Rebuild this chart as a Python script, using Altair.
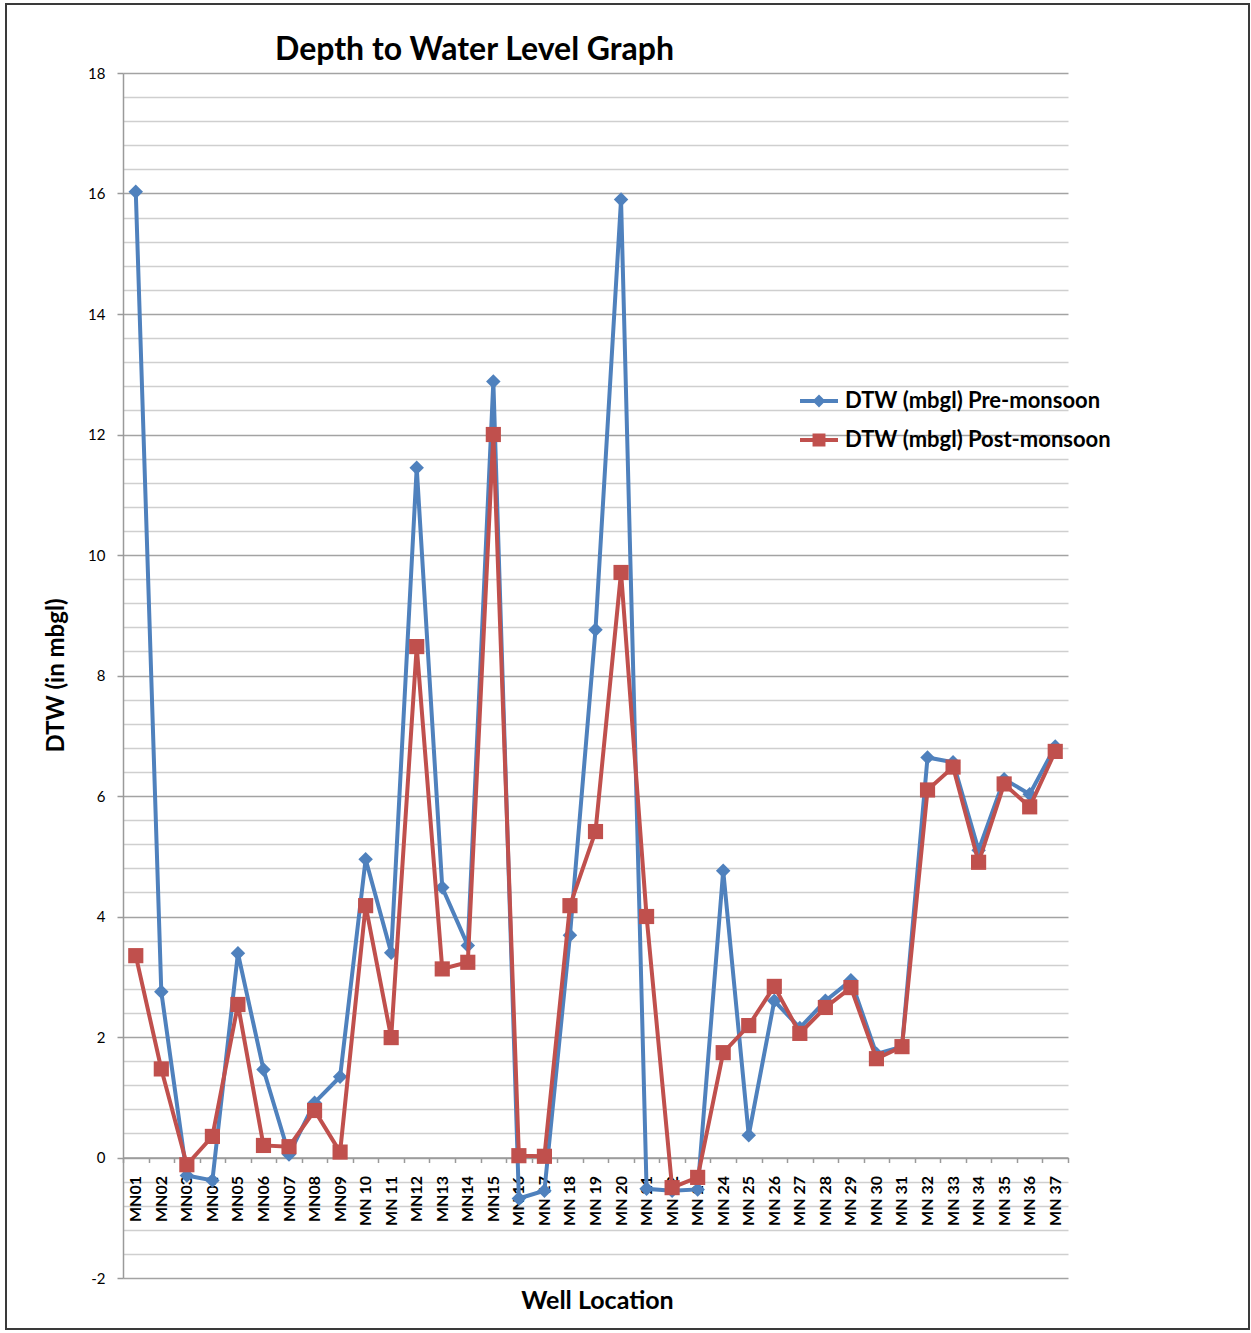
import altair as alt
import pandas as pd

# Well locations along the x axis
wells = [
    "MN01", "MN02", "MN03", "MN04", "MN05", "MN06", "MN07", "MN08", "MN09",
    "MN 10", "MN 11", "MN12", "MN13", "MN14", "MN15", "MN 16", "MN 17",
    "MN 18", "MN 19", "MN 20", "MN 21", "MN 22", "MN 23", "MN 24", "MN 25",
    "MN 26", "MN 27", "MN 28", "MN 29", "MN 30", "MN 31", "MN 32", "MN 33",
    "MN 34", "MN 35", "MN 36", "MN 37",
]

# Depth to water level (m bgl)
pre_monsoon = [
    16.03, 2.75, -0.30, -0.38, 3.39, 1.46, 0.05, 0.91, 1.34, 4.95, 3.40,
    11.45, 4.48, 3.52, 12.88, -0.68, -0.55, 3.69, 8.76, 15.90, -0.52, -0.55,
    -0.53, 4.76, 0.37, 2.60, 2.15, 2.60, 2.94, 1.72, 1.84, 6.64, 6.56, 5.10,
    6.28, 6.03, 6.82,
]
post_monsoon = [
    3.35, 1.47, -0.12, 0.35, 2.54, 0.20, 0.18, 0.78, 0.09, 4.18, 1.99,
    8.48, 3.13, 3.24, 12.00, 0.03, 0.02, 4.18, 5.41, 9.71, 4.00, -0.50,
    -0.33, 1.74, 2.19, 2.84, 2.06, 2.49, 2.82, 1.64, 1.84, 6.10, 6.48, 4.90,
    6.20, 5.82, 6.74,
]

series_names = ["DTW (mbgl) Pre-monsoon", "DTW (mbgl) Post-monsoon"]
series_colors = ["#4F81BD", "#C0504D"]

df = pd.DataFrame({
    "well": wells * 2,
    "value": pre_monsoon + post_monsoon,
    "series": [series_names[0]] * len(wells) + [series_names[1]] * len(wells),
})

FONT = "Lato"
MAJOR = "abs(datum.value % 2) < 0.001"

# y ticks every 0.4 (minor gridlines), labelled every 2
y_ticks = [round(-2 + 0.4 * i, 1) for i in range(51)]

x_enc = alt.X(
    "well:N",
    sort=wells,
    bandPosition=0.5,
    scale=alt.Scale(type="band", domain=wells, paddingInner=0, paddingOuter=0),
    axis=alt.Axis(
        title="Well Location",
        titleFont=FONT, titleFontSize=25, titleFontWeight="bold", titleColor="#000000",
        titleX=474, titleY=143, titleBaseline="middle", titleAlign="center",
        offset=-120.5,
        domainColor="#9a9a9a", domainWidth=1.5,
        tickColor="#9a9a9a", tickSize=5, tickWidth=1.5, tickBand="extent",
        labelAngle=270, labelFont=FONT, labelFontSize=16, labelFontWeight="bold",
        labelColor="#000000", labelPadding=13, labelOverlap=False, labelBound=False,
        grid=False,
    ),
)

y_enc = alt.Y(
    "value:Q",
    scale=alt.Scale(domain=[-2, 18], nice=False, zero=False),
    axis=alt.Axis(
        values=y_ticks,
        labelExpr=f"{MAJOR} ? toString(round(datum.value)) : ''",
        labelFont=FONT, labelFontSize=15, labelColor="#000000", labelPadding=12,
        domainColor="#9a9a9a", domainWidth=1.5,
        tickColor="#9a9a9a", tickSize=6, tickWidth=1.5,
        tickOpacity={"condition": {"test": MAJOR, "value": 1}, "value": 0},
        grid=True, gridWidth=1.5,
        gridColor={"condition": {"test": MAJOR, "value": "#a3a3a3"}, "value": "#cfcfcf"},
        title="DTW (in mbgl)",
        titleFont=FONT, titleFontSize=24, titleFontWeight="bold", titleColor="#000000",
        titleAngle=270, titleX=-67, titleY=602, titleAlign="center", titleBaseline="middle",
        labelOverlap=False,
    ),
)

color_scale = alt.Scale(domain=series_names, range=series_colors)

# legend symbols: a short line segment with the series marker on it
pre_symbol = ("M-1,-0.1L1,-0.1L1,0.1L-1,0.1Z "
              "M0,-0.34L0.34,0L0,0.34L-0.34,0Z")
post_symbol = ("M-1,-0.1L1,-0.1L1,0.1L-1,0.1Z "
               "M-0.34,-0.34L0.34,-0.34L0.34,0.34L-0.34,0.34Z")

legend_cfg = alt.Legend(
    title=None, orient="none", legendX=677, legendY=309, direction="vertical",
    symbolSize=1444, symbolStrokeWidth=0, symbolOpacity=1,
    labelFont=FONT, labelFontSize=22, labelFontWeight="bold", labelColor="#000000",
    labelOffset=7, labelLimit=400, rowPadding=9, padding=0,
)

color_enc = alt.Color("series:N", scale=color_scale, legend=legend_cfg)

base = alt.Chart(df)


def series_layers(name, shape, size):
    sub = base.transform_filter(alt.datum.series == name)
    line = sub.mark_line(strokeWidth=4).encode(x=x_enc, y=y_enc, color=color_enc)
    pts = sub.mark_point(filled=True, shape=shape, size=size, opacity=1).encode(
        x=x_enc, y=y_enc, color=color_enc
    )
    return [line, pts]


# carries the legend symbols only; it draws no marks of its own
legend_layer = base.transform_filter("false").mark_point(filled=True).encode(
    x=x_enc, y=y_enc,
    color=color_enc,
    shape=alt.Shape("series:N", scale=alt.Scale(domain=series_names,
                                                range=[pre_symbol, post_symbol]),
                    legend=legend_cfg),
)

# outer chart frame
frame = alt.Chart(pd.DataFrame({"k": [0]})).mark_rect(
    fill="transparent", stroke="#3a3a3a", strokeWidth=2, clip=False
).encode(
    x=alt.value(-117), x2=alt.value(1126), y=alt.value(-69), y2=alt.value(1256)
)

layers = (
    series_layers(series_names[0], "diamond", 210)
    + series_layers(series_names[1], "square", 230)
    + [legend_layer, frame]
)

chart = alt.layer(*layers).properties(
    width=945,
    height=1205,
    autosize=alt.AutoSizeParams(type="none"),
    padding={"left": 123, "top": 73, "right": 183, "bottom": 55},
    background="white",
    title=alt.Title(
        "Depth to Water Level Graph",
        anchor="start", frame="group", dx=152, offset=-89, baseline="alphabetic",
        font=FONT, fontSize=32, fontWeight="bold", color="#000000",
    ),
).configure_view(stroke="transparent")

chart.save("out.html", embed_options={"renderer": "svg", "actions": False})
